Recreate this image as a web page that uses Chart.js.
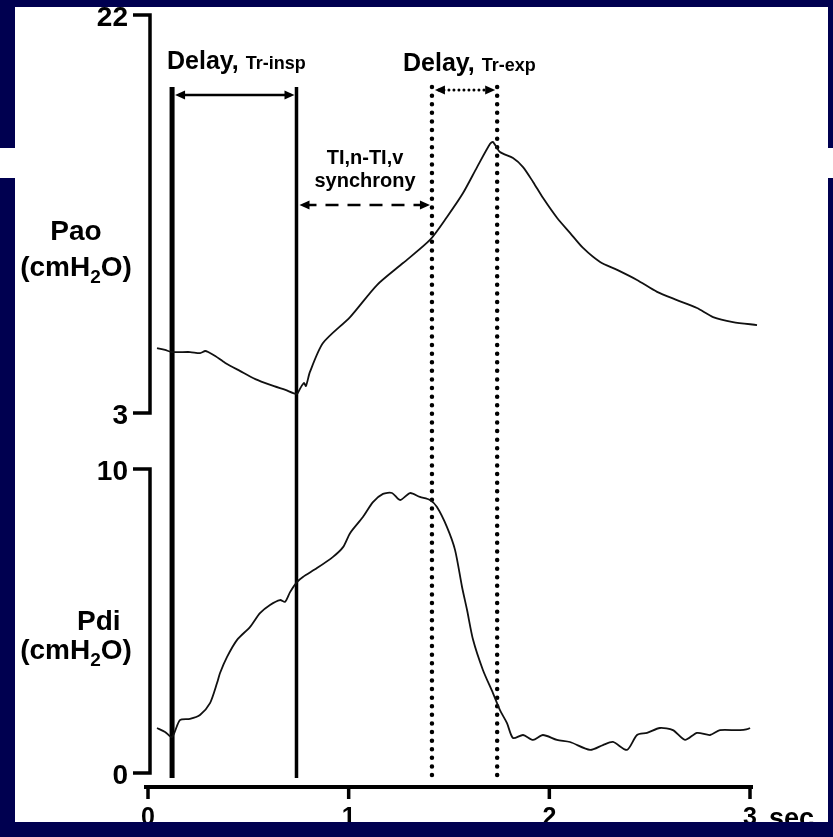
<!DOCTYPE html>
<html>
<head>
<meta charset="utf-8">
<script src="https://cdn.jsdelivr.net/npm/chart.js@4.4.1/dist/chart.umd.min.js"></script>
<style>
  html, body { margin: 0; padding: 0; background: #000050; }
  canvas { display: block; }
</style>
</head>
<body>
<canvas id="chart" width="833" height="837"></canvas>
<script>
// tick labels
const xTicks = [0, 1, 2, 3];
const paoTicks = [3, 22];
const pdiTicks = [0, 10];

// Pao trace (sec, cmH2O)
const paoTime = [0.045, 0.085, 0.12, 0.21, 0.26, 0.285, 0.30, 0.335, 0.385, 0.46, 0.535, 0.61, 0.685, 0.742, 0.757,
  0.777, 0.787, 0.807, 0.872, 1.007, 1.141, 1.271, 1.405, 1.49, 1.57, 1.64, 1.704, 1.719, 1.754, 1.819,
  1.869, 1.919, 1.969, 2.039, 2.104, 2.168, 2.253, 2.338, 2.437, 2.537, 2.636, 2.736, 2.816, 2.915, 3.035];
const paoValue = [6.10, 6.01, 5.91, 5.91, 5.86, 5.96, 5.91, 5.72, 5.39, 5.00, 4.62, 4.34, 4.10, 3.91, 4.15,
  4.43, 4.29, 4.96, 6.34, 7.58, 9.11, 10.16, 11.26, 12.36, 13.50, 14.74, 15.84, 15.94, 15.46, 15.17,
  14.74, 14.03, 13.26, 12.31, 11.59, 10.88, 10.21, 9.83, 9.35, 8.78, 8.39, 8.01, 7.58, 7.34, 7.20];

// Pdi trace (sec, cmH2O)
const pdiTime = [0.045, 0.085, 0.12, 0.159, 0.209, 0.259, 0.309, 0.344, 0.359, 0.394, 0.444, 0.508, 0.558, 0.608, 0.658,
  0.683, 0.708, 0.742, 0.772, 0.842, 0.922, 0.972, 1.007, 1.071, 1.121, 1.171, 1.216, 1.256, 1.306, 1.355,
  1.405, 1.44, 1.49, 1.53, 1.565, 1.59, 1.62, 1.669, 1.719, 1.754, 1.789, 1.819, 1.869, 1.919, 1.968,
  2.038, 2.103, 2.203, 2.267, 2.317, 2.387, 2.437, 2.487, 2.551, 2.616, 2.676, 2.736, 2.801, 2.85, 2.95, 3.0, 3.04];
const pdiValue = [1.48, 1.35, 1.18, 1.74, 1.78, 1.91, 2.30, 2.96, 3.29, 3.82, 4.38, 4.80, 5.26, 5.53, 5.69,
  5.63, 5.95, 6.28, 6.45, 6.74, 7.11, 7.43, 7.89, 8.42, 8.91, 9.18, 9.21, 8.98, 9.21, 9.08,
  8.98, 8.75, 8.09, 7.34, 6.12, 5.36, 4.38, 3.39, 2.63, 2.07, 1.64, 1.15, 1.25, 1.09, 1.25,
  1.09, 1.02, 0.76, 0.92, 1.02, 0.76, 1.25, 1.32, 1.48, 1.41, 1.09, 1.32, 1.25, 1.41, 1.41, 1.48, 1.81];

// trigger / cycling marker times (sec)
const markerTimes = [0.12, 0.74, 1.415, 1.74];
// marker line extent, in Pao units
const markerTop = 18.56, markerBottom = -14.42;

// delay arrows: [from, to] in sec, level in Pao units
const arrowSpans = [[0.12, 0.74], [0.74, 1.415], [1.415, 1.74]];
const arrowLevels = [18.18, 12.93, 18.42];

const FONT = '"Liberation Sans", Arial, Helvetica, sans-serif';
const NAVY = '#000050';

// the two y scales share one chart area (top 15 px, bottom 787 px)
const areaTop = 15, areaBottom = 787;
function fitRange(hiVal, hiPx, loVal, loPx) {
  const k = (hiVal - loVal) / (loPx - hiPx);
  return { max: hiVal + (hiPx - areaTop) * k, min: loVal - (areaBottom - loPx) * k };
}
const paoRange = fitRange(22, 15, 3, 413);
const pdiRange = fitRange(10, 469, 0, 773);

function pts(xs, ys) { return xs.map((t, i) => ({ x: t, y: ys[i] })); }

const markerSets = markerTimes.map((t, i) => ({
  data: [{ x: t, y: markerTop }, { x: t, y: markerBottom }],
  yAxisID: 'yPao',
  borderColor: '#000',
  borderWidth: i == 0 ? 5 : (i == 1 ? 3.5 : 4.5),
  borderDash: i < 2 ? [] : [0, 8.6],
  borderCapStyle: i < 2 ? 'butt' : 'round',
  pointRadius: 0,
  clip: false
}));

function setFont(g, size) { g.font = `bold ${size}px ${FONT}`; }

function drawUnit(g, cx, base, size) {
  const sub = Math.round(size * 0.68);
  setFont(g, size); const w1 = g.measureText('(cmH').width, w3 = g.measureText('O)').width;
  setFont(g, sub); const w2 = g.measureText('2').width;
  let x = cx - (w1 + w2 + w3) / 2;
  g.textAlign = 'left'; g.textBaseline = 'alphabetic';
  setFont(g, size); g.fillText('(cmH', x, base); x += w1;
  setFont(g, sub); g.fillText('2', x, base + 7); x += w2;
  setFont(g, size); g.fillText('O)', x, base);
}

function arrowHead(g, tipX, y, dir, len, half) {
  g.beginPath();
  g.moveTo(tipX, y);
  g.lineTo(tipX - dir * len, y - half);
  g.lineTo(tipX - dir * len, y + half);
  g.closePath();
  g.fill();
}

function drawYAxis(g, ax, scale, ticks) {
  const yHi = scale.getPixelForValue(Math.max(...ticks));
  const yLo = scale.getPixelForValue(Math.min(...ticks));
  g.lineWidth = 3.5; g.lineJoin = 'miter'; g.setLineDash([]);
  g.beginPath();
  g.moveTo(133, yHi); g.lineTo(ax, yHi); g.lineTo(ax, yLo); g.lineTo(133, yLo);
  g.stroke();
  setFont(g, 28); g.textAlign = 'right'; g.textBaseline = 'middle';
  ticks.forEach(v => g.fillText(String(v), 128, scale.getPixelForValue(v) + 3));
}

const overlay = {
  id: 'overlay',
  beforeDraw(c) {
    const g = c.ctx;
    g.save(); g.fillStyle = '#fff'; g.fillRect(0, 0, c.width, c.height); g.restore();
  },
  afterDraw(c) {
    const g = c.ctx, x = c.scales.x, yA = c.scales.yPao, yB = c.scales.yPdi;
    g.save();
    g.strokeStyle = '#000'; g.fillStyle = '#000';

    // y axes
    drawYAxis(g, 150, yA, paoTicks);
    drawYAxis(g, 150, yB, pdiTicks);

    // x axis
    const axY = 787;
    g.lineWidth = 4; g.lineCap = 'butt';
    g.beginPath();
    g.moveTo(x.getPixelForValue(0) - 4, axY); g.lineTo(x.getPixelForValue(3) + 3, axY);
    g.stroke();
    g.lineWidth = 3.5;
    xTicks.forEach(v => {
      const px = x.getPixelForValue(v);
      g.beginPath(); g.moveTo(px, axY); g.lineTo(px, axY + 12); g.stroke();
    });
    setFont(g, 25); g.textAlign = 'center'; g.textBaseline = 'alphabetic';
    xTicks.forEach(v => g.fillText(String(v), x.getPixelForValue(v), 825));
    g.textAlign = 'left';
    setFont(g, 27);
    g.fillText('sec', 769, 827);

    // axis titles
    setFont(g, 28); g.textAlign = 'center';
    g.fillText('Pao', 76, 240);
    drawUnit(g, 76, 276, 28);
    g.fillText('Pdi', 77, 630);
    drawUnit(g, 76, 659, 28);

    // arrows
    const styles = [
      { dash: [], width: 2.5, cap: 'butt' },
      { dash: [13, 9], width: 2.5, cap: 'butt' },
      { dash: [0, 5], width: 3, cap: 'round' }
    ];
    arrowSpans.forEach((s, i) => {
      const x1 = x.getPixelForValue(s[0]) + 3, x2 = x.getPixelForValue(s[1]) - 2;
      const y = yA.getPixelForValue(arrowLevels[i]);
      const st = styles[i];
      g.lineWidth = st.width; g.setLineDash(st.dash); g.lineCap = st.cap;
      g.beginPath(); g.moveTo(x1 + 4, y); g.lineTo(x2 - 4, y); g.stroke();
      g.setLineDash([]);
      arrowHead(g, x1, y, -1, 10, 4.5);
      arrowHead(g, x2, y, 1, 10, 4.5);
    });

    // annotations
    g.textAlign = 'left'; g.textBaseline = 'alphabetic';
    setFont(g, 25); g.fillText('Delay,', 167, 69);
    let w = g.measureText('Delay, ').width;
    setFont(g, 18); g.fillText('Tr-insp', 167 + w, 69);
    setFont(g, 25); g.fillText('Delay,', 403, 71);
    w = g.measureText('Delay, ').width;
    setFont(g, 18); g.fillText('Tr-exp', 403 + w, 71);
    setFont(g, 20); g.textAlign = 'center';
    g.fillText('TI,n-TI,v', 365, 164);
    g.fillText('synchrony', 365, 187);

    // navy frame over everything
    g.fillStyle = NAVY;
    g.fillRect(0, 0, 833, 7);
    g.fillRect(0, 822, 833, 15);
    g.fillRect(0, 7, 15, 141);
    g.fillRect(0, 178, 15, 644);
    g.fillRect(828, 7, 5, 141);
    g.fillRect(828, 178, 5, 644);
    g.restore();
  }
};

new Chart(document.getElementById('chart'), {
  type: 'line',
  data: {
    datasets: [
      { data: pts(paoTime, paoValue), yAxisID: 'yPao', borderColor: '#111', borderWidth: 1.8, pointRadius: 0, tension: 0.25, clip: false },
      { data: pts(pdiTime, pdiValue), yAxisID: 'yPdi', borderColor: '#111', borderWidth: 1.8, pointRadius: 0, tension: 0.25, clip: false }
    ].concat(markerSets)
  },
  options: {
    responsive: false,
    animation: false,
    layout: { padding: { left: 148, right: 83, top: areaTop, bottom: 837 - areaBottom } },
    plugins: { legend: { display: false }, tooltip: { enabled: false } },
    scales: {
      x: { type: 'linear', min: 0, max: 3, display: false },
      yPao: { type: 'linear', min: paoRange.min, max: paoRange.max, display: false },
      yPdi: { type: 'linear', min: pdiRange.min, max: pdiRange.max, display: false }
    }
  },
  plugins: [overlay]
});
</script>
</body>
</html>
